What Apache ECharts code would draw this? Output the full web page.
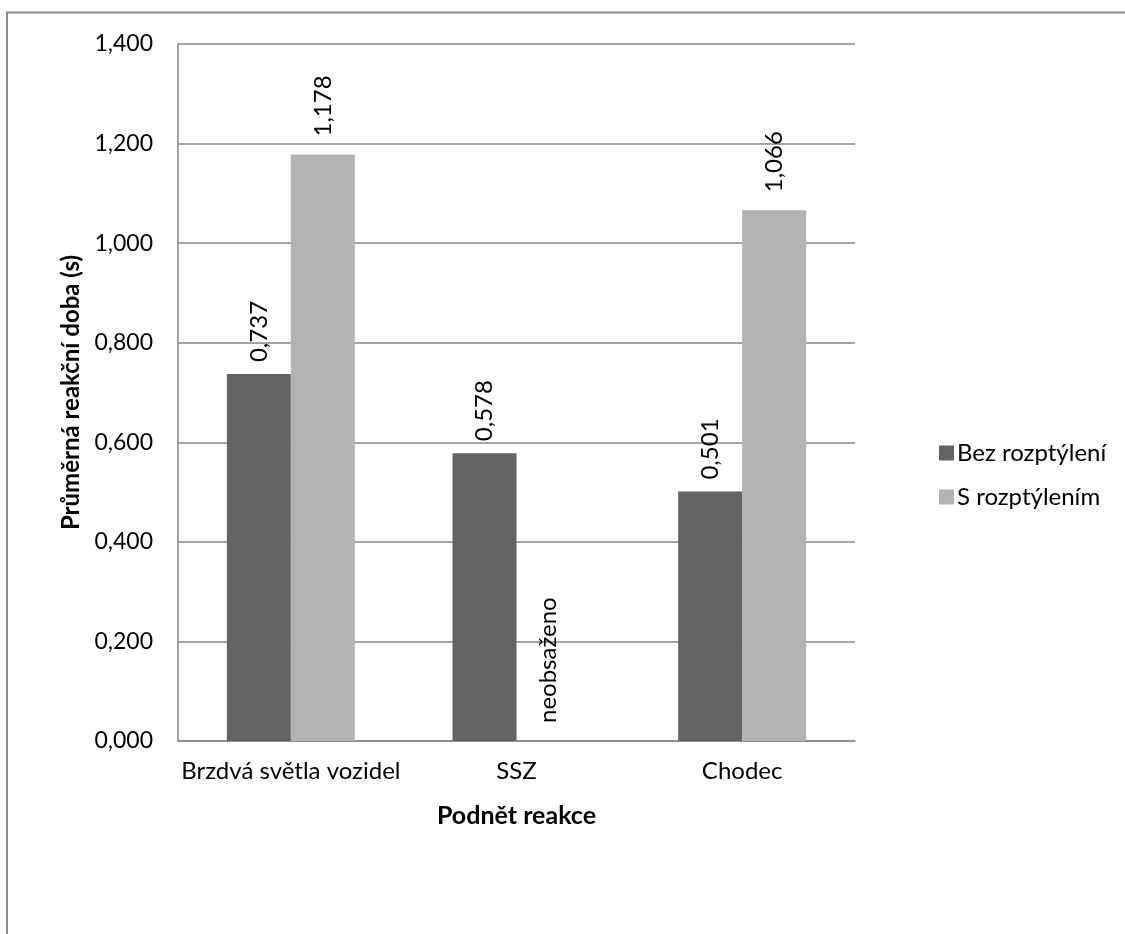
<!DOCTYPE html>
<html>
<head>
<meta charset="utf-8">
<script src="https://cdn.jsdelivr.net/npm/echarts@6/dist/echarts.min.js"></script>
<style>
html,body{margin:0;padding:0;background:#fff;}
#c{width:1125px;height:934px;}
</style>
</head>
<body>
<div id="c"></div>
<script>
const categories = ['Brzdvá světla vozidel', 'SSZ', 'Chodec'];
const seriesNames = ['Bez rozptýlení', 'S rozptýlením'];
const bezRozptyleni = [0.737, 0.578, 0.501];
const sRozptylenim = [1.178, 0, 1.066];
const missingFlags = [false, true, false];
const missingLabel = 'neobsaženo';
const yTicks = [0, 0.2, 0.4, 0.6, 0.8, 1.0, 1.2, 1.4];

const FONT = 'Lato';
const fmt = v => v.toFixed(3).replace('.', ',');

const chart = echarts.init(document.getElementById('c'));
const labelCfg = {
  show: true,
  position: 'top',
  rotate: 90,
  align: 'left',
  verticalAlign: 'middle',
  distance: 12,
  color: '#000',
  fontFamily: FONT,
  fontSize: 24
};
chart.setOption({
  animation: false,
  backgroundColor: '#fff',
  textStyle: {fontFamily: FONT},
  graphic: [{
    type: 'rect',
    shape: {x: 7, y: 12.5, width: 1140, height: 960},
    style: {fill: 'none', stroke: '#8c8c8c', lineWidth: 2},
    silent: true
  }],
  grid: {left: 178, right: 270, top: 44, bottom: 193},
  legend: {
    orient: 'vertical',
    left: 934,
    top: 436,
    itemWidth: 15,
    itemHeight: 15,
    itemGap: 20,
    icon: 'rect',
    textStyle: {fontFamily: FONT, fontSize: 24, color: '#000', padding: [0, 0, 0, -2]},
    data: seriesNames
  },
  xAxis: {
    type: 'category',
    data: categories,
    axisLine: {lineStyle: {color: '#868686', width: 1.5}},
    axisTick: {show: false},
    axisLabel: {color: '#000', fontFamily: FONT, fontSize: 24, margin: 18, interval: 0},
    name: 'Podnět reakce',
    nameLocation: 'middle',
    nameGap: 62,
    nameTextStyle: {color: '#000', fontFamily: FONT, fontSize: 25, fontWeight: 'bold'}
  },
  yAxis: {
    type: 'value',
    min: yTicks[0],
    max: yTicks[yTicks.length - 1],
    interval: 0.2,
    axisLine: {show: true, lineStyle: {color: '#868686', width: 1.5}},
    axisTick: {show: false},
    splitLine: {lineStyle: {color: '#868686', width: 1.5}},
    axisLabel: {color: '#000', fontFamily: FONT, fontSize: 23, margin: 25, formatter: v => fmt(v)},
    name: 'Průměrná reakční doba (s)',
    nameLocation: 'middle',
    nameGap: 94,
    nameTextStyle: {color: '#000', fontFamily: FONT, fontSize: 24, fontWeight: 'bold'}
  },
  series: [
    {
      name: seriesNames[0],
      type: 'bar',
      data: bezRozptyleni,
      barWidth: 64,
      barGap: '0%',
      itemStyle: {color: '#636363'},
      label: Object.assign({}, labelCfg, {formatter: p => fmt(p.value)})
    },
    {
      name: seriesNames[1],
      type: 'bar',
      data: sRozptylenim,
      barWidth: 64,
      barGap: '0%',
      itemStyle: {color: '#b2b2b2'},
      label: Object.assign({}, labelCfg, {
        formatter: p => missingFlags[p.dataIndex] ? missingLabel : fmt(p.value),
        distance: 18
      })
    }
  ]
});
</script>
</body>
</html>
